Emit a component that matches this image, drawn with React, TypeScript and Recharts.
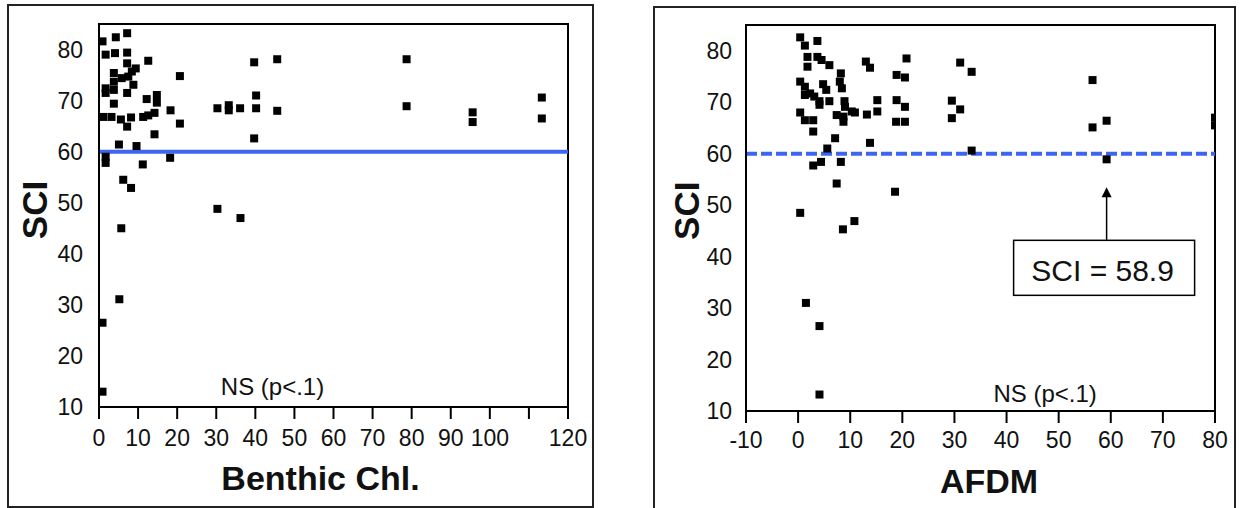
import {
  Label,
  ReferenceArea,
  ReferenceDot,
  ReferenceLine,
  Scatter,
  ScatterChart,
  XAxis,
  YAxis,
  ZAxis,
} from "recharts";

// Benthic chlorophyll vs. SCI
const chlValues = [
  0.9, 4.3, 7.2, 1.7, 4.1, 7.2, 7.2, 9.4, 8.4, 12.6, 20.7, 39.7, 45.6,
  3.8, 3.8, 3.8, 3.8, 5.8, 7.5, 8.8, 7.2, 1.7, 1.7, 12.2, 14.8, 14.8, 18.3,
  30.3, 33.2, 33.2, 36.1, 40.2, 40.2, 45.6, 39.7,
  1.1, 3.2, 5.6, 8.2, 11.3, 12.6, 14.2, 7.2, 20.7, 14.2, 5.1, 9.6, 1.7, 1.7,
  11.2, 18.2, 6.2, 8.2, 30.3, 36.2, 5.7, 5.2, 0.9, 0.9,
  78.7, 78.7, 95.6, 95.6, 113.3, 113.3,
];
const chlSci = [
  81.6, 82.4, 83.2, 79.0, 79.3, 79.4, 77.3, 76.3, 75.7, 77.8, 74.8, 77.5, 78.1,
  75.4, 73.7, 72.1, 69.4, 74.4, 74.7, 73.1, 71.5, 72.4, 71.5, 70.3, 71.1, 69.6, 68.1,
  68.5, 69.1, 68.1, 68.5, 71.0, 68.5, 68.0, 62.6,
  66.8, 66.8, 66.3, 66.7, 66.8, 67.1, 67.6, 64.9, 65.5, 63.4, 61.4, 61.1, 59.0, 57.8,
  57.5, 58.8, 54.5, 52.9, 48.8, 47.0, 45.0, 31.1, 26.5, 13.0,
  78.1, 68.9, 67.7, 65.8, 70.6, 66.5,
];

// AFDM vs. SCI
const afdmValues = [
  0.4, 1.3, 3.7, 1.8, 1.8, 3.7, 4.5, 6.0, 13.0, 13.8, 20.8, 18.9, 20.5, 8.2, 8.0, 8.4,
  0.4, 1.3, 1.3, 2.3, 3.1, 4.1, 4.1, 4.8, 5.4, 6.0, 8.9, 9.0, 10.3, 7.4, 8.7, 8.7,
  10.9, 13.2, 15.2, 15.2, 18.9, 20.5, 18.8, 20.5, 0.4, 1.3, 2.9, 2.9, 7.1, 13.8,
  5.6, 4.4, 2.9, 8.2, 7.4, 18.6, 0.4, 10.8, 8.6, 1.5, 4.1, 4.1,
  31.1, 33.3, 29.5, 31.1, 29.5, 33.3, 56.5, 56.5, 59.2, 59.2, 80, 80,
];
const afdmSci = [
  82.6, 81.0, 81.9, 78.8, 76.9, 78.8, 78.2, 77.2, 77.9, 76.7, 78.5, 75.3, 74.8, 75.6, 74.0, 72.7,
  74.0, 73.0, 71.4, 71.7, 71.1, 70.2, 69.5, 73.5, 72.4, 70.2, 70.2, 69.1, 68.2, 67.5, 67.2, 66.2,
  68.0, 67.6, 70.4, 68.2, 70.4, 69.1, 66.2, 66.2, 68.0, 66.5, 66.5, 64.3, 63.0, 62.1,
  61.0, 58.4, 57.7, 58.4, 54.2, 52.6, 48.5, 46.9, 45.3, 31.0, 26.5, 13.2,
  77.7, 75.9, 70.3, 68.6, 66.9, 60.6, 74.3, 65.1, 66.4, 58.9, 67.0, 65.5,
];

const sciTicks = [10, 20, 30, 40, 50, 60, 70, 80];
const chlTicks = [0, 10, 20, 30, 40, 50, 60, 70, 80, 90, 100, 110, 120];
const afdmTicks = [-10, 0, 10, 20, 30, 40, 50, 60, 70, 80];

const SCI_THRESHOLD = 60;
const CALLOUT_AFDM = 59.2;
const CALLOUT_SCI = 58.9;

const chlData = chlValues.map((x, i) => ({ x, y: chlSci[i] }));
const afdmData = afdmValues.map((x, i) => ({ x, y: afdmSci[i] }));

const FONT = "'Liberation Sans', Arial, Helvetica, sans-serif";
const INK = "#000";
const BLUE = "#3d66f0";
const tickStyle = { fill: "#111", fontSize: 23, fontFamily: FONT };
const lineStyle = { stroke: INK, strokeWidth: 2 };

const yTitle = (dx: number, dy: number) => (props: any) => {
  const vb = props.viewBox || { x: 0, y: 0, width: 0, height: 0 };
  const x = vb.x + dx;
  const y = vb.y + vb.height / 2 + dy;
  return (
    <text
      x={x}
      y={y}
      dy="0.36em"
      transform={`rotate(-90 ${x} ${y})`}
      textAnchor="middle"
      fontFamily={FONT}
      fontWeight={700}
      fontSize={35}
      fill="#111"
    >
      SCI
    </text>
  );
};

const xTitle = (text: string, dx: number, baseline: number) => (props: any) => {
  const vb = props.viewBox || { x: 0, y: 0, width: 0, height: 0 };
  return (
    <text
      x={vb.x + vb.width / 2 + dx}
      y={vb.y + baseline}
      textAnchor="middle"
      fontFamily={FONT}
      fontWeight={700}
      fontSize={34}
      fill="#111"
    >
      {text}
    </text>
  );
};

const nsNote = (props: any) => (
  <text x={props.cx} y={props.cy} textAnchor="middle" fontFamily={FONT} fontSize={24} fill="#111">
    NS (p&lt;.1)
  </text>
);

// arrow pointing up at the highlighted site, with the boxed value below it
const sciCallout = (props: any) => {
  const { cx, cy } = props;
  const tip = cy + 28;
  const boxTop = cy + 81;
  return (
    <g>
      <line x1={cx} y1={tip + 8} x2={cx} y2={boxTop} stroke={INK} strokeWidth={1.5} />
      <path d={`M${cx} ${tip} L${cx - 5} ${tip + 10} L${cx + 5} ${tip + 10} Z`} fill={INK} />
      <rect x={cx - 93} y={boxTop} width={181} height={55} fill="#fff" stroke={INK} strokeWidth={1.5} />
      <text x={cx - 4} y={cy + 122} textAnchor="middle" fontFamily={FONT} fontSize={30} fill="#111">
        SCI = {CALLOUT_SCI}
      </text>
    </g>
  );
};

export default function App() {
  return (
    <div
      style={{
        position: "absolute",
        left: 0,
        top: 0,
        width: 1241,
        height: 508,
        overflow: "hidden",
        background: "#fff",
      }}
    >
      <div
        style={{
          position: "absolute",
          left: 7,
          top: 4,
          width: 587,
          height: 504,
          boxSizing: "border-box",
          border: "2px solid #222",
        }}
      />
      <div
        style={{
          position: "absolute",
          left: 653,
          top: 6,
          width: 583,
          height: 530,
          boxSizing: "border-box",
          border: "2px solid #222",
        }}
      />

      <div style={{ position: "absolute", left: 0, top: 0 }}>
        <ScatterChart width={600} height={508} margin={{ top: 24, right: 32, bottom: 0, left: 0 }}>
          <XAxis
            type="number"
            dataKey="x"
            domain={[0, 120]}
            ticks={chlTicks}
            interval={0}
            tickFormatter={(v) => (v === 110 ? "" : String(v))}
            axisLine={lineStyle}
            tickLine={lineStyle}
            tickSize={12}
            tickMargin={11}
            tick={tickStyle}
            height={101}
          >
            <Label content={xTitle("Benthic Chl.", -13, 83)} />
          </XAxis>
          <YAxis
            type="number"
            dataKey="y"
            domain={[10, 85]}
            ticks={sciTicks}
            interval={0}
            axisLine={lineStyle}
            tickLine={false}
            tickSize={0}
            tickMargin={16}
            tick={tickStyle}
            width={99}
          >
            <Label content={yTitle(34, -5.5)} />
          </YAxis>
          <ZAxis range={[64, 64]} />
          <ReferenceArea x1={0} x2={120} y1={10} y2={85} fill="none" stroke={INK} strokeWidth={2} />
          <ReferenceLine y={SCI_THRESHOLD} stroke={BLUE} strokeWidth={4} />
          <Scatter data={chlData} fill={INK} shape="square" isAnimationActive={false} />
          <ReferenceDot x={44.4} y={12.35} shape={nsNote} />
        </ScatterChart>
      </div>

      <div style={{ position: "absolute", left: 640, top: 0 }}>
        <ScatterChart width={601} height={508} margin={{ top: 25, right: 26, bottom: 0, left: 0 }}>
          <XAxis
            type="number"
            dataKey="x"
            domain={[-10, 80]}
            allowDataOverflow
            ticks={afdmTicks}
            interval={0}
            axisLine={lineStyle}
            tickLine={lineStyle}
            tickSize={12}
            tickMargin={9}
            tick={tickStyle}
            height={97}
          >
            <Label content={xTitle("AFDM", 8.5, 82)} />
          </XAxis>
          <YAxis
            type="number"
            dataKey="y"
            domain={[10, 85]}
            allowDataOverflow
            ticks={sciTicks}
            interval={0}
            axisLine={lineStyle}
            tickLine={false}
            tickSize={0}
            tickMargin={14}
            tick={tickStyle}
            width={106}
          >
            <Label content={yTitle(46.5, -7.3)} />
          </YAxis>
          <ZAxis range={[64, 64]} />
          <ReferenceArea x1={-10} x2={80} y1={10} y2={85} fill="none" stroke={INK} strokeWidth={2} />
          <ReferenceLine y={SCI_THRESHOLD} stroke={BLUE} strokeWidth={4} strokeDasharray="11 4" />
          <Scatter data={afdmData} fill={INK} shape="square" isAnimationActive={false} />
          <ReferenceDot x={CALLOUT_AFDM} y={CALLOUT_SCI} shape={sciCallout} />
          <ReferenceDot x={47.4} y={11.8} shape={nsNote} />
        </ScatterChart>
      </div>
    </div>
  );
}
